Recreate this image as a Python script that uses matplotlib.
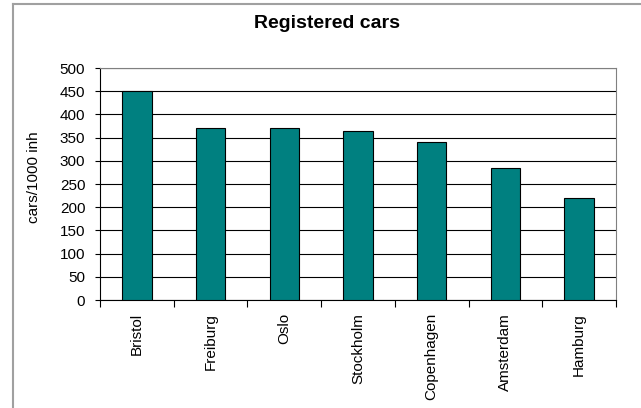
import numpy as np
from matplotlib import pyplot as plt
from matplotlib.lines import Line2D

# registered cars per 1000 inhabitants
cities = ['Bristol', 'Freiburg', 'Oslo', 'Stockholm', 'Copenhagen', 'Amsterdam', 'Hamburg']
cars_per_1000 = [450, 370, 370, 365, 340, 285, 220]
y_ticks = [0, 50, 100, 150, 200, 250, 300, 350, 400, 450, 500]

plt.rcParams['font.family'] = ['Liberation Sans', 'DejaVu Sans']

fig = plt.figure(figsize=(6.41, 4.08), dpi=100)
ax = fig.add_axes([100/641, 1 - 300/408, 516/641, 232/408])

# chart frame (top and left edges)
fig.add_artist(Line2D([13/641, 1.0], [1 - 4/408, 1 - 4/408], color='#a0a0a0', lw=1.5))
fig.add_artist(Line2D([13/641, 13/641], [0.0, 1 - 4/408], color='#a0a0a0', lw=1.5))

x = np.arange(len(cities))
ax.set_axisbelow(True)
ax.yaxis.grid(True, color='black', lw=0.8)
ax.bar(x, cars_per_1000, width=0.4, color='#008080', edgecolor='black', lw=0.8, zorder=3)

ax.set_xlim(-0.5, len(cities) - 0.5)
ax.set_ylim(0, 500)
ax.set_yticks(y_ticks)
ax.tick_params(axis='y', direction='out', length=3.6, width=0.8, labelsize=11, pad=7)

ax.set_xticks(x)
ax.set_xticklabels(cities, rotation=90, fontsize=11)
ax.set_xticks(np.arange(len(cities) + 1) - 0.5, minor=True)
ax.tick_params(axis='x', which='major', length=0, pad=9.5)
ax.tick_params(axis='x', which='minor', direction='out', length=5, width=0.8)

for side in ['top', 'right']:
    ax.spines[side].set_color('#808080')
for spine in ax.spines.values():
    spine.set_linewidth(0.8)

fig.text(34/641, 1 - 177/408, 'cars/1000 inh', rotation=90, ha='center', va='center', fontsize=11)
fig.text(327/641, 1 - 28/408, 'Registered cars', ha='center', va='baseline',
         fontsize=14, fontweight='bold')

plt.savefig('out.png', dpi=100)
